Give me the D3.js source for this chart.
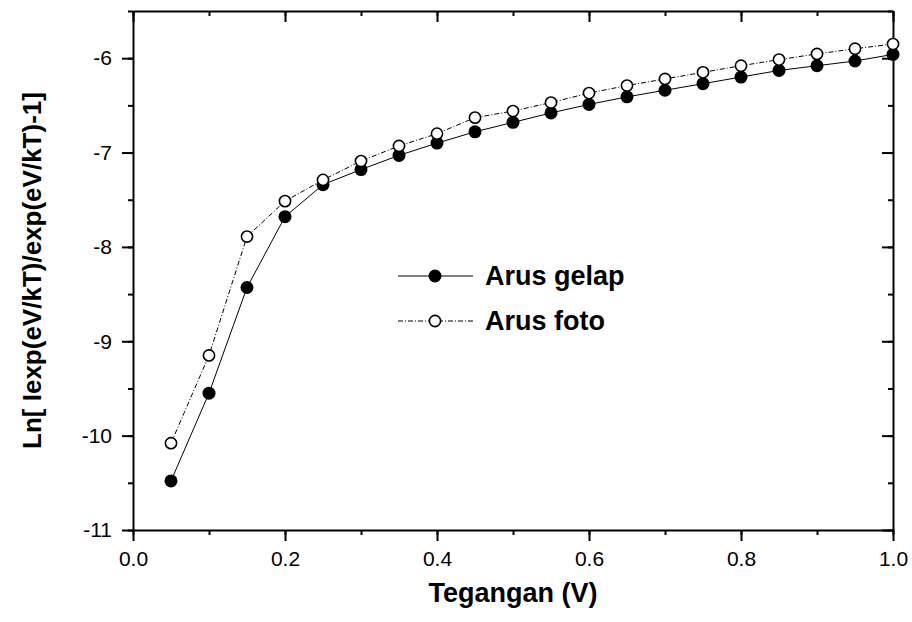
<!DOCTYPE html>
<html>
<head>
<meta charset="utf-8">
<script src="https://cdn.jsdelivr.net/npm/d3@7"></script>
<style>
  body { margin: 0; background: #fff; }
  svg { font-family: 'Liberation Sans', Arial, sans-serif; }
</style>
</head>
<body>
<svg id="chart" width="912" height="622"></svg>
<script>
// voltage points (V)
const voltages = [0.05, 0.10, 0.15, 0.20, 0.25, 0.30, 0.35, 0.40, 0.45, 0.50,
  0.55, 0.60, 0.65, 0.70, 0.75, 0.80, 0.85, 0.90, 0.95, 1.00]

// Arus gelap (filled markers)
const arusGelap = [-10.48, -9.55, -8.43, -7.68, -7.34, -7.18, -7.03, -6.90, -6.78, -6.68,
  -6.58, -6.49, -6.41, -6.34, -6.27, -6.20, -6.13, -6.08, -6.03, -5.96]

// Arus foto (open markers)
const arusFoto = [-10.08, -9.15, -7.89, -7.515, -7.29, -7.09, -6.93, -6.80, -6.63, -6.56,
  -6.47, -6.37, -6.29, -6.22, -6.15, -6.08, -6.015, -5.955, -5.90, -5.85]

const xTicks = [0.0, 0.2, 0.4, 0.6, 0.8, 1.0]
const yTicks = [-11, -10, -9, -8, -7, -6]

const svg = d3.select('#chart')
const mLeft = 133
const mRight = 893
const mTop = 11
const mBottom = 530

const x = d3.scaleLinear().domain([0, 1]).range([mLeft, mRight])
const y = d3.scaleLinear().domain([-11, -5.5]).range([mBottom, mTop])

const xMinor = d3.range(0, 1.0001, 0.1)
const yMinor = d3.range(-11, -5.49, 0.5)

/**
 * Draws one axis with major and minor ticks.
 *
 * @param {Function} make factory returning a fresh d3 axis
 * @param {string} transform translation of the axis group
 * @param {number[]} major major tick values
 * @param {number[]} minor minor tick values
 * @param {Function} fmt label format, or null for no labels
 * @param {number} dir 1 for outward ticks, -1 for inward
 */
function drawAxis (make, transform, major, minor, fmt, dir) {
  svg.append('g')
    .attr('transform', transform)
    .call(make().tickValues(minor).tickSizeInner(5 * dir).tickSizeOuter(0).tickFormat(''))
    .call(g => g.select('.domain').remove())
    .selectAll('line').attr('stroke-width', 2)

  const g = svg.append('g')
    .attr('transform', transform)
    .call(make().tickValues(major).tickSizeInner(11 * dir).tickSizeOuter(0)
      .tickPadding(fmt ? 10 : 0).tickFormat(fmt || ''))
  g.select('.domain').attr('stroke-width', 2)
  g.selectAll('line').attr('stroke-width', 2)
  g.selectAll('text').attr('font-size', 21).attr('fill', '#000')
  return g
}

drawAxis(() => d3.axisBottom(x), `translate(0,${mBottom})`, xTicks, xMinor, d3.format('.1f'), 1)
drawAxis(() => d3.axisTop(x), `translate(0,${mTop})`, xTicks, xMinor, null, -1)
drawAxis(() => d3.axisLeft(y), `translate(${mLeft},0)`, yTicks, yMinor, d => String(d), 1)
drawAxis(() => d3.axisRight(y), `translate(${mRight},0)`, yTicks, yMinor, null, -1)

const points = voltages.map((v, i) => ({ v, gelap: arusGelap[i], foto: arusFoto[i] }))

svg.append('path')
  .datum(points)
  .attr('fill', 'none')
  .attr('stroke', '#000')
  .attr('stroke-width', 1)
  .attr('d', d3.line().x(d => x(d.v)).y(d => y(d.gelap)))

svg.append('path')
  .datum(points)
  .attr('fill', 'none')
  .attr('stroke', '#000')
  .attr('stroke-width', 1)
  .attr('stroke-dasharray', '5,2,1,2')
  .attr('d', d3.line().x(d => x(d.v)).y(d => y(d.foto)))

svg.append('g')
  .selectAll('circle')
  .data(points)
  .enter()
  .append('circle')
  .attr('cx', d => x(d.v))
  .attr('cy', d => y(d.gelap))
  .attr('r', 6.5)
  .attr('fill', '#000')

svg.append('g')
  .selectAll('circle')
  .data(points)
  .enter()
  .append('circle')
  .attr('cx', d => x(d.v))
  .attr('cy', d => y(d.foto))
  .attr('r', 5.6)
  .attr('fill', '#fff')
  .attr('stroke', '#000')
  .attr('stroke-width', 1.6)

// legend
const legend = svg.append('g')
legend.append('line')
  .attr('x1', 398).attr('x2', 473).attr('y1', 276).attr('y2', 276)
  .attr('stroke', '#000').attr('stroke-width', 1)
legend.append('circle').attr('cx', 435).attr('cy', 276).attr('r', 6.5).attr('fill', '#000')
legend.append('text').attr('x', 485).attr('y', 285)
  .attr('font-size', 27).attr('font-weight', 'bold').text('Arus gelap')

legend.append('line')
  .attr('x1', 398).attr('x2', 473).attr('y1', 321).attr('y2', 321)
  .attr('stroke', '#000').attr('stroke-width', 1).attr('stroke-dasharray', '5,2,1,2')
legend.append('circle').attr('cx', 435).attr('cy', 321).attr('r', 5.6)
  .attr('fill', '#fff').attr('stroke', '#000').attr('stroke-width', 1.6)
legend.append('text').attr('x', 485).attr('y', 330)
  .attr('font-size', 27).attr('font-weight', 'bold').text('Arus foto')

// axis titles
svg.append('text')
  .attr('x', (mLeft + mRight) / 2)
  .attr('y', 602)
  .attr('text-anchor', 'middle')
  .attr('font-size', 27)
  .attr('font-weight', 'bold')
  .text('Tegangan (V)')

svg.append('text')
  .attr('transform', `translate(41,${(mTop + mBottom) / 2}) rotate(-90)`)
  .attr('text-anchor', 'middle')
  .attr('font-size', 26)
  .attr('font-weight', 'bold')
  .text('Ln[ Iexp(eV/kT)/exp(eV/kT)-1]')
</script>
</body>
</html>
